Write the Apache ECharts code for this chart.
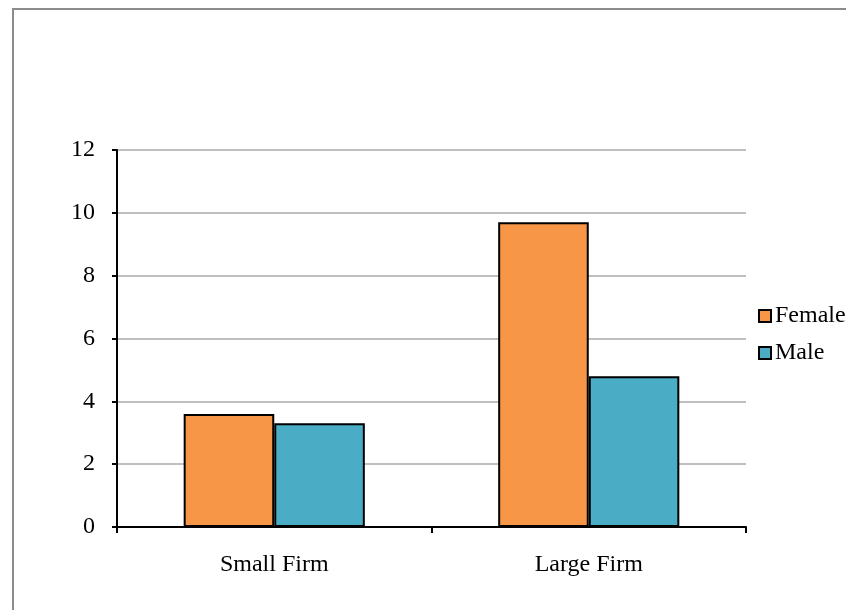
<!DOCTYPE html>
<html>
<head>
<meta charset="utf-8">
<script src="https://cdn.jsdelivr.net/npm/echarts@6/dist/echarts.min.js"></script>
<style>
html,body{margin:0;padding:0;background:#fff;}
#chart{width:846px;height:610px;}
</style>
</head>
<body>
<div id="chart"></div>
<script>
const categories = ['Small Firm', 'Large Firm'];
const femaleValues = [3.6, 9.7];
const maleValues = [3.3, 4.8];
const seriesNames = ['Female', 'Male'];

const font = 'Liberation Serif, Times New Roman, serif';
const chart = echarts.init(document.getElementById('chart'));
chart.setOption({
  animation: false,
  backgroundColor: '#ffffff',
  graphic: [{
    type: 'rect',
    shape: { x: 13, y: 9, width: 900, height: 700 },
    style: { fill: 'none', stroke: '#8c8c8c', lineWidth: 2 },
    silent: true
  }],
  grid: { left: 117, right: 100, top: 150, bottom: 83 },
  legend: {
    orient: 'vertical',
    left: 758,
    top: 304,
    padding: 0,
    itemWidth: 12,
    itemHeight: 12,
    itemGap: 13,
    icon: 'rect',
    data: seriesNames,
    textStyle: { fontFamily: font, fontSize: 24, color: '#000', padding: [0, 0, 0, -1] }
  },
  xAxis: {
    type: 'category',
    data: categories,
    axisLine: { lineStyle: { color: '#000', width: 2 } },
    axisTick: { show: true, length: 6, lineStyle: { color: '#000', width: 2 } },
    axisLabel: { fontFamily: font, fontSize: 24, color: '#000', margin: 26 }
  },
  yAxis: {
    type: 'value',
    min: 0,
    max: 12,
    interval: 2,
    axisLine: { show: true, lineStyle: { color: '#000', width: 2 } },
    axisTick: { show: true, length: 5, lineStyle: { color: '#000', width: 2 } },
    axisLabel: { fontFamily: font, fontSize: 24, color: '#000', margin: 22, padding: [4, 0, 0, 0] },
    splitLine: { lineStyle: { color: '#c0c0c0', width: 2 } }
  },
  series: [
    {
      name: seriesNames[0],
      type: 'bar',
      data: femaleValues,
      barGap: '0%',
      barCategoryGap: '42.4%',
      itemStyle: { color: '#F79646', borderColor: '#000', borderWidth: 2 }
    },
    {
      name: seriesNames[1],
      type: 'bar',
      data: maleValues,
      barGap: '0%',
      barCategoryGap: '42.4%',
      itemStyle: { color: '#4BACC6', borderColor: '#000', borderWidth: 2 }
    }
  ]
});
</script>
</body>
</html>
